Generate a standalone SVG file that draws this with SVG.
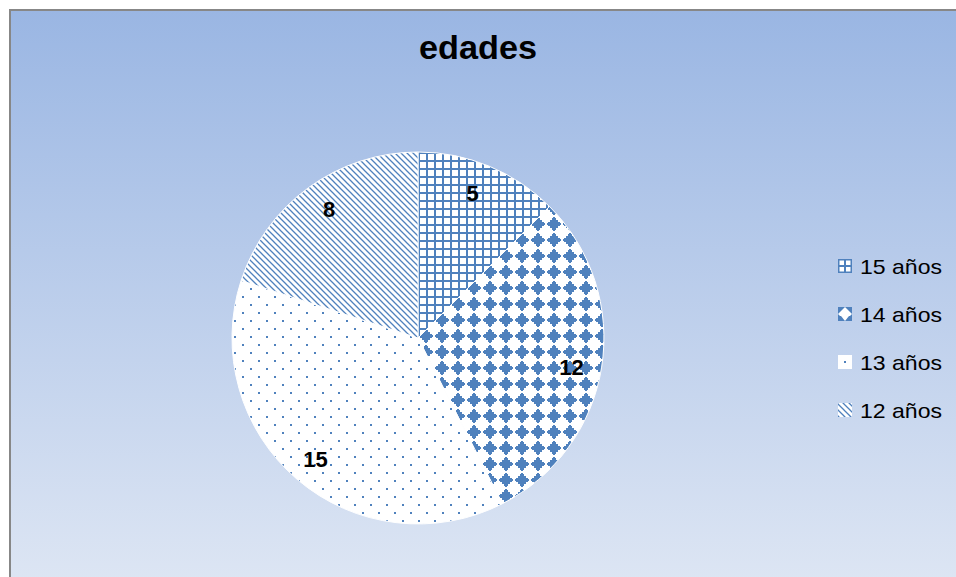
<svg xmlns="http://www.w3.org/2000/svg" width="956" height="577" viewBox="0 0 956 577">
  <style>
    .lbl { font-family: "Liberation Sans", Arial, sans-serif; font-weight: bold; font-size: 22px; fill: #000; text-anchor: middle; }
    .leg { font-family: "Liberation Sans", Arial, sans-serif; font-size: 21px; fill: #000; }
    .title { font-family: "Liberation Sans", Arial, sans-serif; font-weight: bold; font-size: 33px; fill: #000; text-anchor: middle; }
    .slice { stroke: #ffffff; stroke-width: 1; }
  </style>
  <defs>
    <linearGradient id="bg" x1="0" y1="0" x2="0" y2="1">
      <stop offset="0" stop-color="#9AB6E3"/>
      <stop offset="1" stop-color="#DFE7F4"/>
    </linearGradient>
    <pattern id="pGrid" width="8" height="8" patternUnits="userSpaceOnUse" x="418" y="152">
      <rect width="8" height="8" fill="#fff"/>
      <rect x="0" y="0" width="2" height="8" fill="#4F81BD"/>
      <rect x="0" y="0" width="8" height="2" fill="#4F81BD"/>
    </pattern>
    <pattern id="pDiamond" width="16" height="16" patternUnits="userSpaceOnUse" x="418" y="152">
      <rect width="16" height="16" fill="#fff"/>
      <g fill="#4F81BD">
        <rect x="7" y="1" width="2" height="1"/>
        <rect x="6" y="2" width="4" height="2"/>
        <rect x="4" y="4" width="8" height="2"/>
        <rect x="2" y="6" width="12" height="4"/>
        <rect x="1" y="7" width="14" height="2"/>
        <rect x="4" y="10" width="8" height="2"/>
        <rect x="6" y="12" width="4" height="2"/>
        <rect x="7" y="14" width="2" height="1"/>
      </g>
    </pattern>
    <pattern id="pDots" width="16" height="16" patternUnits="userSpaceOnUse" x="418" y="152">
      <rect width="16" height="16" fill="#fff"/>
      <rect x="0" y="0" width="2" height="2" fill="#4F81BD"/>
      <rect x="8" y="8" width="2" height="2" fill="#4F81BD"/>
    </pattern>
    <pattern id="pDiag" width="6" height="6" patternUnits="userSpaceOnUse" x="418" y="152">
      <rect width="6" height="6" fill="#fff"/>
      <path d="M-1,-1 L7,7 M-1,5 L1,7 M5,-1 L7,1" stroke="#4F81BD" stroke-width="1.3"/>
    </pattern>
    <clipPath id="icon14clip">
      <rect x="838" y="307" width="14" height="14"/>
    </clipPath>
  </defs>

  <!-- chart area -->
  <rect x="10" y="10" width="960" height="590" fill="url(#bg)" stroke="#878787" stroke-width="2"/>

  <!-- title -->
  <text class="title" x="478" y="59" textLength="118" lengthAdjust="spacingAndGlyphs">edades</text>

  <!-- pie slices -->
  <g id="slice-15">
    <path class="slice" d="M418,338 L418,152 A186,186 0 0 1 549.5,206.5 Z" fill="url(#pGrid)"/>
    <text class="lbl" x="472.5" y="201">5</text>
  </g>
  <g id="slice-14">
    <path class="slice" d="M418,338 L549.5,206.5 A186,186 0 0 1 502.4,503.7 Z" fill="url(#pDiamond)"/>
    <text class="lbl" x="571.5" y="375">12</text>
  </g>
  <g id="slice-13">
    <path class="slice" d="M418,338 L502.4,503.7 A186,186 0 0 1 241.1,280.5 Z" fill="url(#pDots)"/>
    <text class="lbl" x="315.5" y="467">15</text>
  </g>
  <g id="slice-12">
    <path class="slice" d="M418,338 L241.1,280.5 A186,186 0 0 1 418,152 Z" fill="url(#pDiag)"/>
    <text class="lbl" x="329" y="216.5">8</text>
  </g>

  <!-- legend -->
  <g id="legend-15">
    <rect x="838.75" y="259.75" width="12.5" height="12.5" fill="#fff" stroke="#4F81BD" stroke-width="1.5"/>
    <line x1="845" y1="259" x2="845" y2="273" stroke="#4F81BD" stroke-width="2"/>
    <line x1="838" y1="266" x2="852" y2="266" stroke="#4F81BD" stroke-width="2"/>
    <text class="leg" x="860" y="274" textLength="82" lengthAdjust="spacingAndGlyphs">15 años</text>
  </g>
  <g id="legend-14">
    <g clip-path="url(#icon14clip)">
      <rect x="838" y="307" width="14" height="14" fill="#fff"/>
      <g fill="#4F81BD">
        <polygon points="838,300 845,307 838,314 831,307"/>
        <polygon points="852,300 859,307 852,314 845,307"/>
        <polygon points="838,314 845,321 838,328 831,321"/>
        <polygon points="852,314 859,321 852,328 845,321"/>
        <rect x="838" y="316" width="14" height="5"/>
      </g>
      <polygon points="845,312 849,316 845,321 841,316" fill="#fff"/>
    </g>
    <text class="leg" x="860" y="322" textLength="82" lengthAdjust="spacingAndGlyphs">14 años</text>
  </g>
  <g id="legend-13">
    <rect x="838" y="355" width="14" height="14" fill="#fff"/>
    <rect x="844" y="361" width="2" height="2" fill="#4F81BD"/>
    <text class="leg" x="860" y="370" textLength="82" lengthAdjust="spacingAndGlyphs">13 años</text>
  </g>
  <g id="legend-12">
    <rect x="838" y="403" width="14" height="14" fill="url(#pDiag)"/>
    <text class="leg" x="860" y="418" textLength="82" lengthAdjust="spacingAndGlyphs">12 años</text>
  </g>
</svg>
